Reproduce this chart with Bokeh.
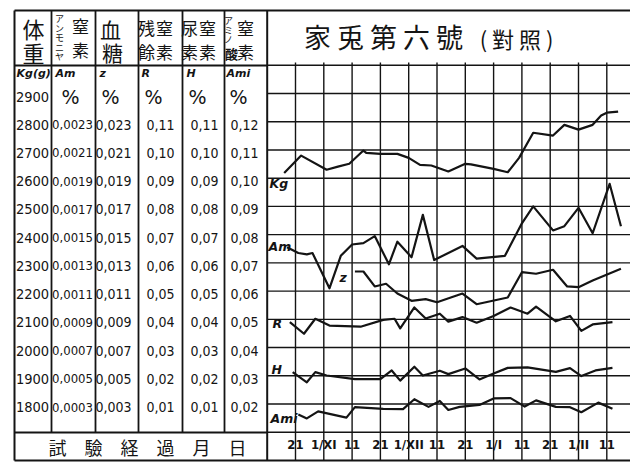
from bokeh.plotting import figure
from bokeh.models import Range1d
from bokeh.core.properties import value
from bokeh.embed import file_html
from bokeh.resources import INLINE

# ---------------- data ----------------
# day 0 = 21 Oct, grid columns every 10 days
date_ticks = [0, 10, 20, 30, 40, 50, 60, 70, 80, 90, 100, 110]
date_labels = ["21", "1/XI", "11", "21", "1/XII", "11", "21", "1/I", "11", "21", "1/II", "11"]

# body weight (g)
kg_day = [-4, 2, 11, 15, 19, 24, 25, 30, 36, 40, 44, 48, 54, 60, 62, 70, 75, 79, 84, 91, 95, 100, 105, 108, 110, 114]
kg = [2618, 2680, 2630, 2641, 2651, 2698, 2690, 2686, 2686, 2672, 2647, 2645, 2624, 2651, 2649, 2633,
      2621, 2672, 2761, 2751, 2789, 2772, 2789, 2822, 2832, 2836]

# ammonia nitrogen (%)
am_day = [-3, 1, 4, 6, 12, 16, 20, 24, 28, 33, 36, 41, 45, 49, 59, 64, 74, 80, 84, 91, 95, 100, 105, 111, 115]
am = [0.00141, 0.00137, 0.00136, 0.00137, 0.00112, 0.00135, 0.00143, 0.00144, 0.00149, 0.00129, 0.00145,
      0.00134, 0.00164, 0.00132, 0.00142, 0.00133, 0.00135, 0.00158, 0.00170, 0.00153, 0.00156, 0.00169,
      0.00151, 0.00186, 0.00156]

# blood sugar (%)
z_day = [21, 24, 28, 32, 36, 41, 46, 50, 59, 64, 75, 80, 85, 91, 96, 100, 105, 115]
z = [0.01239, 0.01239, 0.01133, 0.01152, 0.01083, 0.01031, 0.01043, 0.01021, 0.01083, 0.01007, 0.01055,
     0.01234, 0.01223, 0.01251, 0.01133, 0.01128, 0.01175, 0.01258]

# residual nitrogen (%)
r_day = [-2, 3, 7, 12, 23, 31, 35, 37, 42, 46, 51, 54, 59, 64, 70, 76, 82, 85, 92, 97, 101, 105, 112]
r = [0.0390, 0.0349, 0.0402, 0.0378, 0.0374, 0.0398, 0.0402, 0.0368, 0.0442, 0.0403, 0.0420, 0.0392,
     0.0408, 0.0388, 0.0412, 0.0442, 0.0420, 0.0445, 0.0393, 0.0412, 0.0359, 0.0382, 0.0390]

# urea nitrogen (%)
h_day = [-1, 4, 7, 11, 21, 30, 34, 37, 42, 45, 51, 54, 60, 65, 70, 75, 82, 92, 97, 101, 106, 112]
h = [0.0213, 0.0177, 0.0213, 0.0201, 0.0188, 0.0188, 0.0219, 0.0183, 0.0232, 0.0201, 0.0218, 0.0206,
     0.0226, 0.0187, 0.0208, 0.0228, 0.0230, 0.0214, 0.0227, 0.0199, 0.0219, 0.0228]

# amino-acid nitrogen (%)
ami_day = [1, 4, 8, 18, 21, 31, 38, 42, 47, 51, 54, 58, 65, 70, 76, 81, 85, 92, 97, 101, 107, 112]
ami = [0.0163, 0.0149, 0.0174, 0.0152, 0.0189, 0.0183, 0.0182, 0.0217, 0.0190, 0.0211, 0.0179, 0.0190,
       0.0197, 0.0220, 0.0221, 0.0191, 0.0213, 0.0190, 0.0189, 0.0171, 0.0205, 0.0183]

# scale columns of the left-hand table
kg_ticks = [2900, 2800, 2700, 2600, 2500, 2400, 2300, 2200, 2100, 2000, 1900, 1800]
kg_labels = ["2900", "2800", "2700", "2600", "2500", "2400", "2300", "2200", "2100", "2000", "1900", "1800"]
am_ticks = [0.0023, 0.0021, 0.0019, 0.0017, 0.0015, 0.0013, 0.0011, 0.0009, 0.0007, 0.0005, 0.0003]
am_labels = ["0,0023", "0,0021", "0,0019", "0,0017", "0,0015", "0,0013", "0,0011", "0,0009", "0,0007", "0,0005", "0,0003"]
z_ticks = [0.023, 0.021, 0.019, 0.017, 0.015, 0.013, 0.011, 0.009, 0.007, 0.005, 0.003]
z_labels = ["0,023", "0,021", "0,019", "0,017", "0,015", "0,013", "0,011", "0,009", "0,007", "0,005", "0,003"]
r_ticks = [0.11, 0.10, 0.09, 0.08, 0.07, 0.06, 0.05, 0.04, 0.03, 0.02, 0.01]
r_labels = ["0,11", "0,10", "0,09", "0,08", "0,07", "0,06", "0,05", "0,04", "0,03", "0,02", "0,01"]
h_ticks = [0.11, 0.10, 0.09, 0.08, 0.07, 0.06, 0.05, 0.04, 0.03, 0.02, 0.01]
h_labels = ["0,11", "0,10", "0,09", "0,08", "0,07", "0,06", "0,05", "0,04", "0,03", "0,02", "0,01"]
ami_ticks = [0.12, 0.11, 0.10, 0.09, 0.08, 0.07, 0.06, 0.05, 0.04, 0.03, 0.02]
ami_labels = ["0,12", "0,11", "0,10", "0,09", "0,08", "0,07", "0,06", "0,05", "0,04", "0,03", "0,02"]

# ---------------- layout ----------------
W, H = 630, 465
ROW = 28.23          # px per grid row
Y2900 = 93.0         # px of the 2900 g row
X_DAY0 = 295.0       # px of day 0
PX_DAY = 2.83        # px per day

INK = "#141414"
CJK = "Noto Sans CJK JP"
NUM = "DejaVu Sans Condensed, Roboto, sans-serif"
LAT = "DejaVu Sans"

p = figure(width=W, height=H, x_range=Range1d(0, W), y_range=Range1d(H, 0),
           x_axis_type=None, y_axis_type=None, toolbar_location=None,
           output_backend="svg", min_border=0)
p.outline_line_color = None
p.background_fill_color = "white"
p.border_fill_color = "white"


def value_range(top, step):
    # vertical range whose value `top` sits on the 2900 g row, `step` per row
    return Range1d(start=top - (H - Y2900) / ROW * step, end=top + Y2900 / ROW * step)


p.extra_x_ranges = {"day": Range1d(start=-X_DAY0 / PX_DAY, end=(W - X_DAY0) / PX_DAY)}
p.extra_y_ranges = {
    "kg": value_range(2900, 100),
    "am": value_range(0.0025, 0.0002),
    "z": value_range(0.025, 0.002),
    "r": value_range(0.12, 0.01),
    "h": value_range(0.12, 0.01),
    "ami": value_range(0.13, 0.01),
}

# frame of the sheet
LEFT, TOP, BOTTOM = 14, 10, 460
TABLE_R = X_DAY0 - 10 * PX_DAY
COLS = [51, 95, 138, 182, 224]
p.segment(x0=[LEFT, LEFT, LEFT, LEFT, LEFT], y0=[TOP, BOTTOM, TOP, 65, 432],
          x1=[W, W, LEFT, TABLE_R, TABLE_R], y1=[TOP, BOTTOM, BOTTOM, 65, 432],
          line_color=INK, line_width=2)
p.segment(x0=COLS, y0=[TOP] * 5, x1=COLS, y1=[432] * 5, line_color=INK, line_width=1.8)
p.segment(x0=[TABLE_R], y0=[TOP], x1=[TABLE_R], y1=[BOTTOM], line_color=INK, line_width=2)

# chart grid: rows 3000 g .. 1700 g, columns every 10 days
grid_rows = [3000 - 100 * i for i in range(14)]
p.segment(x0=[TABLE_R] * len(grid_rows), y0=grid_rows, x1=[W] * len(grid_rows), y1=grid_rows,
          y_range_name="kg", line_color=INK, line_width=1.4)
p.segment(x0=date_ticks, y0=[62] * len(date_ticks), x1=date_ticks, y1=[BOTTOM] * len(date_ticks),
          x_range_name="day", line_color=INK, line_width=1.4)

# series
for xs, ys, rng in [(kg_day, kg, "kg"), (am_day, am, "am"), (z_day, z, "z"),
                    (r_day, r, "r"), (h_day, h, "h"), (ami_day, ami, "ami")]:
    p.line(xs, ys, x_range_name="day", y_range_name=rng, line_color=INK, line_width=2.2,
           line_join="round")

# series names inside the chart
p.text(x=[269, 268, 339, 272, 271, 270], y=[183, 246, 277, 323, 369, 418],
       text=["Kg", "Am", "z", "R", "H", "Ami"], text_font=value(LAT), text_font_style="bold italic",
       text_font_size="12.5px", text_baseline="middle", text_color=INK)

# title
p.text(x=[383], y=[36], text=["家 兎 第 六 號"], text_font=value(CJK), text_font_size="27px",
       text_align="center", text_baseline="middle", text_color=INK)
p.text(x=[516], y=[37], text=["( 對 照 )"], text_font=value(CJK), text_font_size="22px",
       text_align="center", text_baseline="middle", text_color=INK)

# table header
hx = [33, 33, 110, 112, 146, 164, 146, 164, 189, 207, 189, 207, 80, 80, 245, 245]
hy = [27, 51, 28, 51, 27, 27, 51, 51, 27, 27, 51, 51, 25, 49, 27, 51]
ht = ["体", "重", "血", "糖", "残", "窒", "餘", "素", "尿", "窒", "素", "素", "窒", "素", "窒", "素"]
hs = ["22px", "22px", "21px", "21px"] + ["17px"] * 12
for x, y, t, s in zip(hx, hy, ht, hs):
    p.text(x=[x], y=[y], text=[t], text_font=value(CJK), text_font_size=s,
           text_align="center", text_baseline="middle", text_color=INK)
p.text(x=[59] * 5, y=[18, 27.5, 37, 46.5, 56], text=["ア", "ン", "モ", "ニ", "ヤ"],
       text_font=value(CJK), text_font_size="9px", text_align="center", text_baseline="middle",
       text_color=INK)
p.text(x=[228, 228, 228], y=[20, 30, 39], text=["ア", "ミ", "ノ"],
       text_font=value(CJK), text_font_size="9px", text_align="center", text_baseline="middle",
       text_color=INK)
p.text(x=[231], y=[53], text=["酸"], text_font=value(CJK), text_font_size="13px",
       text_align="center", text_baseline="middle", text_color=INK, text_font_style="bold")

p.text(x=[16, 55, 99, 141, 186, 226], y=[73] * 6, text=["Kg(g)", "Am", "z", "R", "H", "Ami"],
       text_font=value(LAT), text_font_size="11px", text_font_style="bold italic",
       text_baseline="middle", text_color=INK)
p.text(x=[70, 110, 153, 197, 238], y=[96] * 5, text=["%"] * 5, text_font=value(LAT),
       text_font_size="19px", text_align="center", text_baseline="middle", text_color=INK)

# scale columns
for cx, ticks, labels, rng, size in [(32, kg_ticks, kg_labels, "kg", "14.5px"),
                                     (72, am_ticks, am_labels, "am", "13px"),
                                     (113, z_ticks, z_labels, "z", "14px"),
                                     (160, r_ticks, r_labels, "r", "14px"),
                                     (204, h_ticks, h_labels, "h", "14px"),
                                     (244, ami_ticks, ami_labels, "ami", "14px")]:
    p.text(x=[cx] * len(ticks), y=ticks, text=labels, y_range_name=rng, y_offset=3,
           text_font=value(NUM), text_font_size=size, text_align="center",
           text_baseline="middle", text_color=INK)

# bottom row
p.text(x=[147], y=[446], text=["試　驗　経　過　月　日"], text_font=value(CJK),
       text_font_size="18px", text_align="center", text_baseline="middle", text_color=INK)
p.text(x=date_ticks, y=[444] * len(date_ticks), text=date_labels, x_range_name="day",
       text_font=value(NUM), text_font_size="13px", text_font_style="bold",
       text_align="center", text_baseline="middle", text_color=INK)

open("out.html", "w").write(file_html(p, INLINE))
